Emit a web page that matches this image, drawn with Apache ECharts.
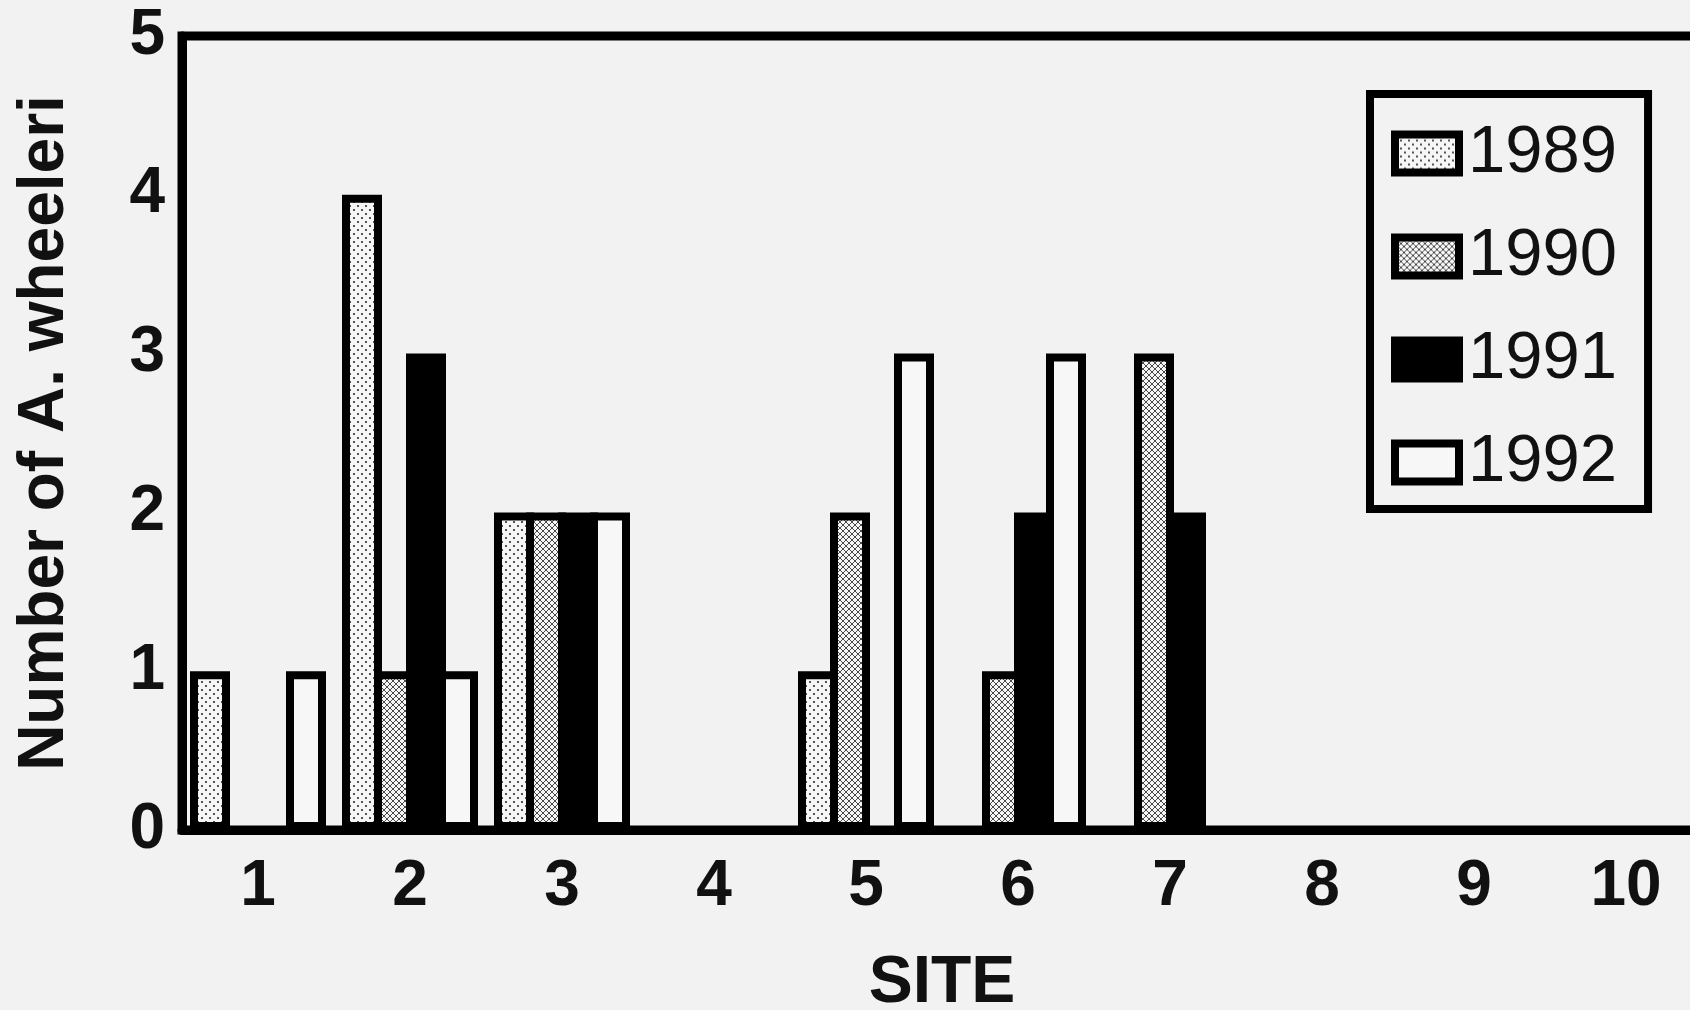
<!DOCTYPE html>
<html>
<head>
<meta charset="utf-8">
<script src="https://cdn.jsdelivr.net/npm/echarts@6/dist/echarts.min.js"></script>
<style>
html,body{margin:0;padding:0;background:#f2f2f2;}
#c{width:1690px;height:1010px;}
</style>
</head>
<body>
<div id="c"></div>
<script>
// ---- data ----
var sites = ['1','2','3','4','5','6','7','8','9','10'];
var years = ['1989','1990','1991','1992'];
var v1989 = [1, 4, 2, 0, 1, 0, 0, 0, 0, 0];
var v1990 = [0, 1, 2, 0, 2, 1, 3, 0, 0, 0];
var v1991 = [0, 3, 2, 0, 0, 2, 2, 0, 0, 0];
var v1992 = [1, 1, 2, 0, 3, 3, 0, 0, 0, 0];
var yTicks = [0, 1, 2, 3, 4, 5];

// ---- patterns ----
function dotPattern() {
  var c = document.createElement('canvas'); c.width = 8; c.height = 8;
  var g = c.getContext('2d');
  g.fillStyle = '#f6f6f6'; g.fillRect(0, 0, 8, 8);
  g.fillStyle = '#555';
  g.fillRect(1, 1, 2, 2); g.fillRect(5, 5, 2, 2);
  return c;
}
function hatchPattern() {
  var c = document.createElement('canvas'); c.width = 6; c.height = 6;
  var g = c.getContext('2d');
  g.fillStyle = '#f6f6f6'; g.fillRect(0, 0, 6, 6);
  g.strokeStyle = '#4a4a4a'; g.lineWidth = 1;
  g.beginPath();
  g.moveTo(0, 0); g.lineTo(6, 6);
  g.moveTo(6, 0); g.lineTo(0, 6);
  g.stroke();
  return c;
}
var fills = [
  {image: dotPattern(), repeat: 'repeat'},
  {image: hatchPattern(), repeat: 'repeat'},
  '#000000',
  '#f7f7f7'
];
var values = [v1989, v1990, v1991, v1992];
var FONT = '"Liberation Sans", Arial, Helvetica, sans-serif';

var series = years.map(function (y, i) {
  return {
    name: y,
    type: 'bar',
    data: values[i],
    barWidth: 40,
    barGap: '-20%',
    itemStyle: {color: fills[i], borderColor: '#000', borderWidth: 8},
    emphasis: {disabled: true}
  };
});

var chart = echarts.init(document.getElementById('c'), null, {renderer: 'canvas'});
chart.setOption({
  backgroundColor: '#f2f2f2',
  animation: false,
  grid: {left: 182, top: 36, bottom: 180, right: -12, outerBoundsMode: 'none', containLabel: false,
    show: true, borderColor: '#000', borderWidth: 9, backgroundColor: 'transparent'},
  legend: {
    orient: 'vertical',
    left: 1370, top: 94,
    padding: [26, 31, 13, 21],
    itemGap: 36,
    itemWidth: 64, itemHeight: 38,
    icon: 'rect',
    borderColor: '#000', borderWidth: 8,
    backgroundColor: '#f2f2f2',
    itemStyle: {borderColor: '#000', borderWidth: 8},
    textStyle: {fontFamily: FONT, fontSize: 67, color: '#111', padding: [0, 0, 0, 4]},
    selectedMode: false,
    data: years
  },
  xAxis: {
    type: 'category',
    data: sites,
    name: 'SITE',
    nameLocation: 'middle',
    nameGap: 121,
    nameTextStyle: {fontFamily: FONT, fontSize: 66, fontWeight: 'bold', color: '#111'},
    axisLine: {show: true, lineStyle: {color: '#000', width: 9}},
    axisTick: {show: false},
    axisLabel: {fontFamily: FONT, fontSize: 64, fontWeight: 'bold', color: '#111', margin: 25},
    splitLine: {show: false}
  },
  yAxis: {
    type: 'value',
    min: 0, max: 5, interval: 1,
    name: 'Number of A. wheeleri',
    nameLocation: 'middle',
    nameGap: 105,
    nameTextStyle: {fontFamily: FONT, fontSize: 64, fontWeight: 'bold', color: '#111'},
    axisLine: {show: true, lineStyle: {color: '#000', width: 9}},
    axisTick: {show: false},
    axisLabel: {fontFamily: FONT, fontSize: 64, fontWeight: 'bold', color: '#111', margin: 17,
      formatter: function (v) { return yTicks.indexOf(v) >= 0 ? String(v) : ''; }},
    splitLine: {show: false}
  },
  series: series
});
</script>
</body>
</html>
